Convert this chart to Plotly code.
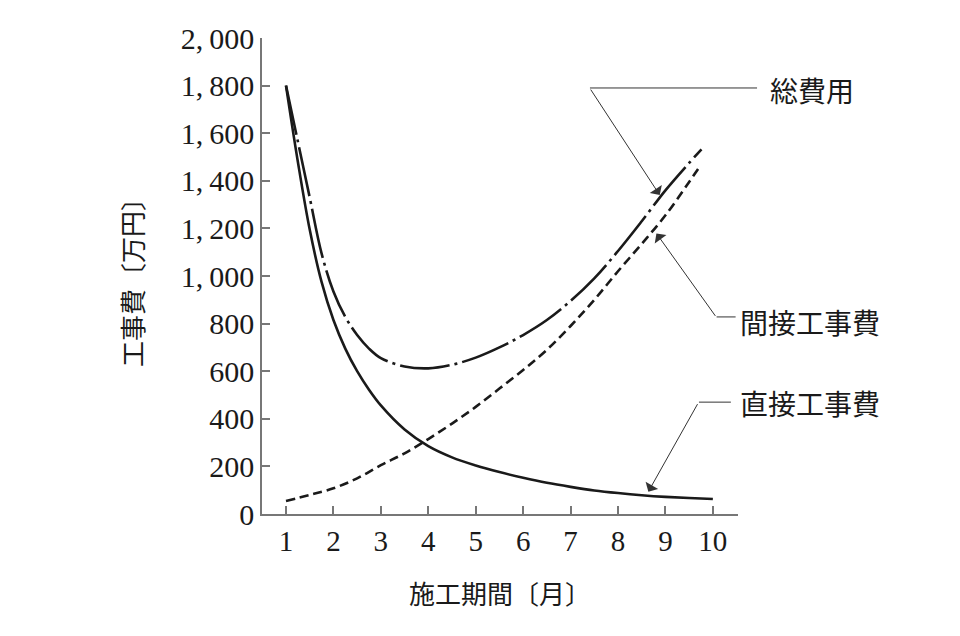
import plotly.graph_objects as go

# 施工期間 [月] and 工事費 [万円]
x_direct = [1, 1.25, 1.5, 1.75, 2, 2.25, 2.5, 2.75, 3, 3.5, 4, 4.5, 5, 5.5, 6, 6.5, 7, 7.5, 8, 8.5, 9, 9.5, 10]
y_direct = [1800, 1480, 1195, 975, 815, 695, 600, 522, 456, 355, 285, 238, 204, 176, 152, 131, 114, 99, 88, 79, 72, 67, 63]

x_indirect = [1, 1.5, 2, 2.5, 3, 3.5, 4, 4.5, 5, 5.5, 6, 6.5, 7, 7.5, 8, 8.5, 9, 9.5, 9.73]
y_indirect = [55, 80, 108, 150, 205, 255, 315, 380, 450, 527, 605, 690, 790, 900, 1020, 1135, 1255, 1395, 1462]

x_total = [1, 1.25, 1.5, 1.75, 2, 2.25, 2.5, 2.75, 3, 3.5, 4, 4.5, 5, 5.5, 6, 6.5, 7, 7.5, 8, 8.5, 9, 9.5, 9.76]
y_total = [1800, 1565, 1330, 1095, 935, 828, 752, 695, 655, 620, 612, 627, 657, 700, 752, 815, 895, 990, 1105, 1230, 1360, 1475, 1532]

x_ticks = list(range(1, 11))
y_ticks = list(range(0, 2001, 200))
y_ticktext = [f"{v:,}".replace(",", ",\u2009") for v in y_ticks]

# labels: text, arrow tip (data), elbow offset from tip (px), leader line (paper), text pos (paper)
labels = [
    ("総費用", 8.88, 1340, -70, -107, 0.689, 1.040, 0.895, 1.063, 0.890),
    ("間接工事費", 8.81, 1179, 60, 84, 0.955, 0.995, 0.414, 1.000, 0.404),
    ("直接工事費", 8.64, 94, 50, -89, 0.918, 0.985, 0.235, 1.000, 0.233),
]

ink = "#1a1a1a"
serif = "Liberation Serif"
jp = "Noto Sans CJK JP"
line_shape = dict(shape="spline", smoothing=1.0)

fig = go.Figure()
fig.add_trace(go.Scatter(x=x_direct, y=y_direct, mode="lines", name="直接工事費",
                         line=dict(color=ink, width=2.6, **line_shape)))
fig.add_trace(go.Scatter(x=x_indirect, y=y_indirect, mode="lines", name="間接工事費",
                         line=dict(color=ink, width=2.6, dash="9px,5px", **line_shape)))
fig.add_trace(go.Scatter(x=x_total, y=y_total, mode="lines", name="総費用",
                         line=dict(color=ink, width=2.6, dash="50px,5px,3px,5px", **line_shape)))

for text, tx, ty, ax, ay, lx0, lx1, ly, txp, typ in labels:
    fig.add_annotation(x=tx, y=ty, ax=ax, ay=ay, text="", showarrow=True,
                       arrowhead=1, arrowsize=2.4, arrowwidth=1, arrowcolor="#333")
    fig.add_shape(type="line", xref="paper", yref="paper", x0=lx0, x1=lx1, y0=ly, y1=ly,
                  line=dict(color="#333", width=1))
    fig.add_annotation(xref="paper", yref="paper", x=txp, y=typ, text=text, showarrow=False,
                       xanchor="left", yanchor="middle", font=dict(family=jp, size=28, color=ink))

fig.update_xaxes(range=[0.494, 10.53], tickvals=x_ticks, ticks="inside", ticklen=8,
                 tickcolor="#777", tickwidth=1.5, showline=True, linecolor="#777", linewidth=1.5,
                 showgrid=False, zeroline=False, tickfont=dict(family=serif, size=29, color=ink),
                 title=dict(text="施工期間〔月〕", font=dict(family=jp, size=26, color=ink), standoff=30))
fig.update_yaxes(range=[0, 2000], tickvals=y_ticks, ticktext=y_ticktext, ticks="inside", ticklen=8,
                 tickcolor="#777", tickwidth=1.5, showline=True, linecolor="#777", linewidth=1.5,
                 showgrid=False, zeroline=False, tickfont=dict(family=serif, size=30, color=ink),
                 title=dict(text="工事費〔万円〕", font=dict(family=jp, size=26, color=ink), standoff=30))

# page body adds 8px, so the figure is 944x620 and margins are shifted
fig.update_layout(width=944, height=620, showlegend=False, plot_bgcolor="white", paper_bgcolor="white",
                  margin=dict(l=254, r=214, t=30, b=114, autoexpand=False))

fig.write_html("out.html")
